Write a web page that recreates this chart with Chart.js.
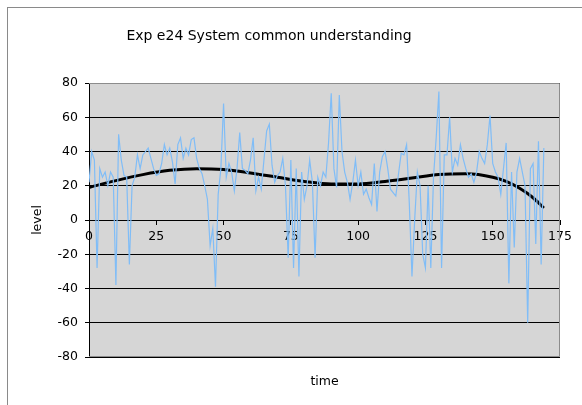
<!DOCTYPE html>
<html>
<head>
<meta charset="utf-8">
<script src="https://cdn.jsdelivr.net/npm/chart.js@4/dist/chart.umd.min.js"></script>
<style>
  html, body { margin: 0; padding: 0; background: #fff; overflow: hidden; }
  #wrap { position: relative; width: 582px; height: 405px; }
  #frame { position: absolute; left: 7px; top: 7px; width: 700px; height: 500px; border: 1px solid #8a8a8a; }
  #title { position: absolute; left: 0; top: 27px; width: 538px; text-align: center;
           font-family: "DejaVu Sans", Verdana, sans-serif; font-size: 14px; color: #000; }
  canvas { position: absolute; left: 0; top: 0; }
</style>
</head>
<body>
<div id="wrap">
  <div id="frame"></div>
  <canvas id="myChart" width="582" height="405"></canvas>
  <div id="title">Exp e24 System common understanding</div>
</div>
<script>
// series
var time = [];
for (var t = 0; t <= 169; t++) time.push(t);

var level = [
  22, 40, 35, -28, 30, 25, 28, 20, 28, 25,
  -38, 50, 35, 26, 25, -26, 20, 25, 38, 30,
  38, 40, 42, 36, 30, 26, 27, 33, 44, 38,
  42, 34, 21, 44, 48, 36, 42, 38, 47, 48,
  36, 30, 27, 20, 12, -15, -5, -39, 15, 30,
  68, 25, 33, 28, 17, 30, 51, 30, 29, 27,
  35, 48, 17, 25, 18, 35, 52, 56, 32, 22,
  26, 28, 36, 20, -22, 35, -28, 30, -33, 28,
  12, 20, 35, 22, -22, 25, 20, 28, 25, 45,
  74, 30, 19, 73, 40, 28, 22, 12, 22, 35,
  20, 28, 15, 18, 13, 9, 33, 5, 28, 37,
  40, 30, 18, 16, 14, 27, 39, 38, 44, 10,
  -33, 0, 28, 20, -20, -28, 20, -28, 25, 48,
  75, -28, 38, 38, 60, 28, 36, 32, 44, 36,
  30, 25, 27, 22, 28, 40, 36, 33, 44, 61,
  33, 28, 25, 15, 30, 45, -37, 28, -16, 28,
  36, 28, 20, -60, 30, 33, -14, 46, -26, 42
];

// trend line (polynomial fit in the original)
var trendTime = [0, 10, 20, 30, 40, 50, 60, 70, 80, 90, 100, 110, 120, 130, 140, 150, 155, 160, 165, 169];
var trendLevel = [19, 23, 26.5, 29, 30, 29.5, 27.5, 25, 22.5, 21, 21, 22.5, 24.5, 26.5, 27, 25, 22.5, 18.5, 13, 7];

var xTicks = [0, 25, 50, 75, 100, 125, 150, 175];
var yTicks = [-80, -60, -40, -20, 0, 20, 40, 60, 80];

var font = { family: '"DejaVu Sans", Verdana, sans-serif', size: 12.5 };

var plotArea = {
  id: 'plotArea',
  beforeDraw: function (chart) {
    var a = chart.chartArea, ctx = chart.ctx;
    ctx.save();
    ctx.fillStyle = '#d6d6d6';
    ctx.fillRect(a.left, a.top, a.right - a.left, a.bottom - a.top);
    ctx.restore();
  },
  afterDraw: function (chart) {
    var a = chart.chartArea, ctx = chart.ctx;
    ctx.save();
    ctx.strokeStyle = '#8c8c8c';
    ctx.lineWidth = 1;
    ctx.beginPath();
    ctx.moveTo(a.left, a.top + 0.5); ctx.lineTo(a.right - 0.5, a.top + 0.5);
    ctx.lineTo(a.right - 0.5, a.bottom - 0.5); ctx.lineTo(a.left, a.bottom - 0.5);
    ctx.stroke();
    ctx.restore();
  }
};

var ctx = document.getElementById('myChart');
var myChart = new Chart(ctx, {
  type: 'line',
  data: {
    datasets: [
      {
        label: 'level',
        data: time.map(function (t, i) { return { x: t, y: level[i] }; }),
        borderColor: '#80bdf7',
        borderWidth: 1.2,
        pointRadius: 0,
        tension: 0,
        fill: false
      },
      {
        label: 'trend',
        data: trendTime.map(function (t, i) { return { x: t, y: trendLevel[i] }; }),
        borderColor: '#000',
        borderWidth: 3,
        pointRadius: 0,
        cubicInterpolationMode: 'monotone',
        fill: false
      }
    ]
  },
  options: {
    responsive: false,
    animation: false,
    layout: { padding: { top: 83, right: 22, left: 0, bottom: 0 } },
    plugins: { legend: { display: false }, tooltip: { enabled: false } },
    scales: {
      x: {
        type: 'linear',
        min: 0, max: 175,
        position: { y: 0 },
        afterBuildTicks: function (s) { s.ticks = xTicks.map(function (v) { return { value: v }; }); },
        ticks: { color: '#000', font: font, padding: 5, maxRotation: 0 },
        grid: { drawOnChartArea: false, drawTicks: true, tickLength: 4, color: '#000' },
        border: { color: '#000' }
      },
      x2: {
        type: 'linear',
        position: 'bottom',
        ticks: { display: false },
        grid: { display: false },
        border: { display: false },
        title: { display: true, text: 'time', color: '#000', font: font, padding: { top: 0, bottom: 15.5 } },
        afterFit: function (s) { s.height = 48; }
      },
      y: {
        type: 'linear',
        min: -80, max: 80,
        position: 'left',
        afterBuildTicks: function (s) { s.ticks = yTicks.map(function (v) { return { value: v }; }); },
        ticks: { color: '#000', font: font, padding: 7 },
        grid: { color: '#000', tickLength: 4, drawTicks: true },
        border: { color: '#000' },
        title: { display: true, text: 'level', color: '#000', font: font, padding: { top: 30.5, bottom: 0 } },
        afterFit: function (s) { s.width = 89; }
      }
    }
  },
  plugins: [plotArea]
});
</script>
</body>
</html>
